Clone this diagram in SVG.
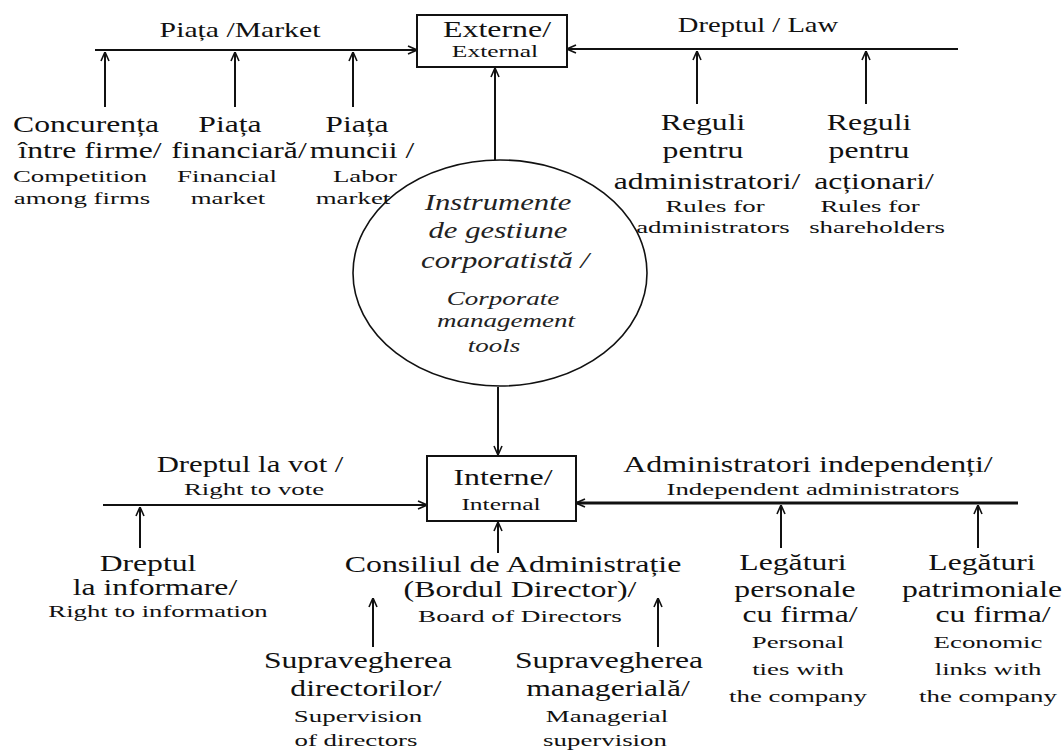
<svg xmlns="http://www.w3.org/2000/svg" width="1064" height="751" viewBox="0 0 1064 751">
<style>
text{font-family:"Liberation Serif","Times New Roman",serif;fill:#111;text-anchor:middle}
.ro{font-size:24px}
.en{font-size:17px}
.hd{font-size:22px}
.it{font-size:24px;font-style:italic;fill:#222}
.iten{font-size:18px;font-style:italic;fill:#222}
.c line{stroke:#111;stroke-width:2;fill:none}
.box{fill:#fff;stroke:#111;stroke-width:2}
</style>
<defs>
<marker id="arr" viewBox="0 0 10 10" refX="10" refY="5" markerWidth="10" markerHeight="10" markerUnits="userSpaceOnUse" orient="auto">
<path d="M1,1 L10,5 L1,9" fill="none" stroke="#111" stroke-width="1.6"/>
</marker>
</defs>
<rect width="1064" height="751" fill="#fff"/>

<g id="connectors" class="c">
<line x1="95" y1="50" x2="417" y2="50" marker-end="url(#arr)"/>
<line x1="958" y1="49" x2="567" y2="49" marker-end="url(#arr)"/>
<line x1="105" y1="107" x2="105" y2="52" marker-end="url(#arr)"/>
<line x1="235" y1="107" x2="235" y2="52" marker-end="url(#arr)"/>
<line x1="353" y1="107" x2="353" y2="52" marker-end="url(#arr)"/>
<line x1="697" y1="104" x2="697" y2="51" marker-end="url(#arr)"/>
<line x1="866" y1="104" x2="866" y2="51" marker-end="url(#arr)"/>
<line x1="495" y1="160" x2="495" y2="68" marker-end="url(#arr)"/>
<line x1="498" y1="387" x2="498" y2="455" marker-end="url(#arr)"/>
<line x1="103" y1="505" x2="427" y2="505" marker-end="url(#arr)"/>
<line x1="1018" y1="503" x2="576" y2="503" style="stroke-width:3" marker-end="url(#arr)"/>
<line x1="140" y1="548" x2="140" y2="507" marker-end="url(#arr)"/>
<line x1="781" y1="548" x2="781" y2="505" marker-end="url(#arr)"/>
<line x1="978" y1="548" x2="978" y2="505" marker-end="url(#arr)"/>
<line x1="498" y1="553" x2="498" y2="522" marker-end="url(#arr)"/>
<line x1="373" y1="647" x2="373" y2="598" marker-end="url(#arr)"/>
<line x1="658" y1="647" x2="658" y2="598" marker-end="url(#arr)"/>
</g>

<g id="externe">
<rect class="box" x="417" y="15" width="150" height="52"/>
<text class="ro" transform="translate(497,37) scale(1.33,1)">Externe/</text>
<text class="en" transform="translate(495,57) scale(1.5,1)">External</text>
</g>

<g id="piata-label">
<text class="hd" font-size="21" transform="translate(240,37) scale(1.35,1)">Piața /Market</text>
</g>
<g id="drept-label">
<text class="hd" transform="translate(758,32) scale(1.3,1)">Dreptul / Law</text>
</g>

<g id="concurenta">
<text class="ro" transform="translate(86,132) scale(1.32,1)">Concurența</text>
<text class="ro" transform="translate(90,158) scale(1.32,1)">între firme/</text>
<text class="en" transform="translate(80,182) scale(1.58,1)">Competition</text>
<text class="en" transform="translate(82,204) scale(1.58,1)">among firms</text>
</g>
<g id="piata-financiara">
<text class="ro" transform="translate(230,132) scale(1.32,1)">Piața</text>
<text class="ro" transform="translate(239,158) scale(1.32,1)">financiară/</text>
<text class="en" transform="translate(227,182) scale(1.58,1)">Financial</text>
<text class="en" transform="translate(228,204) scale(1.58,1)">market</text>
</g>
<g id="piata-muncii">
<text class="ro" transform="translate(357,132) scale(1.32,1)">Piața</text>
<text class="ro" transform="translate(362,158) scale(1.32,1)">muncii /</text>
<text class="en" transform="translate(365,182) scale(1.58,1)">Labor</text>
<text class="en" transform="translate(353,204) scale(1.58,1)">market</text>
</g>
<g id="reguli-admin">
<text class="ro" transform="translate(703,130) scale(1.32,1)">Reguli</text>
<text class="ro" transform="translate(703,158) scale(1.32,1)">pentru</text>
<text class="ro" transform="translate(707,189) scale(1.32,1)">administratori/</text>
<text class="en" transform="translate(715,212) scale(1.58,1)">Rules for</text>
<text class="en" transform="translate(713,233) scale(1.58,1)">administrators</text>
</g>
<g id="reguli-actionari">
<text class="ro" transform="translate(869,130) scale(1.32,1)">Reguli</text>
<text class="ro" transform="translate(869,158) scale(1.32,1)">pentru</text>
<text class="ro" transform="translate(874,189) scale(1.32,1)">acționari/</text>
<text class="en" transform="translate(870,212) scale(1.58,1)">Rules for</text>
<text class="en" transform="translate(877,233) scale(1.58,1)">shareholders</text>
</g>

<g id="instrumente">
<ellipse cx="500" cy="273" rx="147" ry="113" fill="none" stroke="#111" stroke-width="1.6"/>
<text class="it" transform="translate(498,210) scale(1.28,1)">Instrumente</text>
<text class="it" transform="translate(498,238) scale(1.28,1)">de gestiune</text>
<text class="it" transform="translate(505,268) scale(1.28,1)">corporatistă /</text>
<text class="iten" transform="translate(503,305) scale(1.5,1)">Corporate</text>
<text class="iten" transform="translate(506,327) scale(1.5,1)">management</text>
<text class="iten" transform="translate(494,352) scale(1.5,1)">tools</text>
</g>

<g id="interne">
<rect class="box" x="427" y="456" width="149" height="65"/>
<text class="ro" transform="translate(503,485) scale(1.33,1)">Interne/</text>
<text class="en" transform="translate(501,510) scale(1.5,1)">Internal</text>
</g>

<g id="vot-label">
<text class="ro" transform="translate(250,472) scale(1.28,1)">Dreptul la vot /</text>
<text class="en" transform="translate(254,495) scale(1.58,1)">Right to vote</text>
</g>
<g id="admin-indep-label">
<text class="ro" transform="translate(808,472) scale(1.33,1)">Administratori independenți/</text>
<text class="en" transform="translate(813,495) scale(1.58,1)">Independent administrators</text>
</g>

<g id="drept-informare">
<text class="ro" transform="translate(148,571) scale(1.32,1)">Dreptul</text>
<text class="ro" transform="translate(155,595) scale(1.32,1)">la informare/</text>
<text class="en" transform="translate(158,617) scale(1.57,1)">Right to information</text>
</g>
<g id="consiliul">
<text class="ro" transform="translate(513,572) scale(1.33,1)">Consiliul de Administrație</text>
<text class="ro" transform="translate(520,597) scale(1.33,1)">(Bordul Director)/</text>
<text class="en" transform="translate(520,622) scale(1.6,1)">Board of Directors</text>
</g>
<g id="supraveghere-directori">
<text class="ro" transform="translate(358,668) scale(1.32,1)">Supravegherea</text>
<text class="ro" transform="translate(366,696) scale(1.32,1)">directorilor/</text>
<text class="en" transform="translate(358,722) scale(1.58,1)">Supervision</text>
<text class="en" transform="translate(356,746) scale(1.58,1)">of directors</text>
</g>
<g id="supraveghere-manageriala">
<text class="ro" transform="translate(609,668) scale(1.32,1)">Supravegherea</text>
<text class="ro" transform="translate(608,696) scale(1.32,1)">managerială/</text>
<text class="en" transform="translate(607,722) scale(1.58,1)">Managerial</text>
<text class="en" transform="translate(605,746) scale(1.58,1)">supervision</text>
</g>
<g id="legaturi-personale">
<text class="ro" transform="translate(793,570) scale(1.32,1)">Legături</text>
<text class="ro" transform="translate(795,597) scale(1.32,1)">personale</text>
<text class="ro" transform="translate(800,622) scale(1.32,1)">cu firma/</text>
<text class="en" transform="translate(798,648) scale(1.58,1)">Personal</text>
<text class="en" transform="translate(798,675) scale(1.58,1)">ties with</text>
<text class="en" transform="translate(798,702) scale(1.58,1)">the company</text>
</g>
<g id="legaturi-patrimoniale">
<text class="ro" transform="translate(982,570) scale(1.32,1)">Legături</text>
<text class="ro" transform="translate(982,597) scale(1.32,1)">patrimoniale</text>
<text class="ro" transform="translate(993,622) scale(1.32,1)">cu firma/</text>
<text class="en" transform="translate(988,648) scale(1.58,1)">Economic</text>
<text class="en" transform="translate(988,675) scale(1.58,1)">links with</text>
<text class="en" transform="translate(988,702) scale(1.58,1)">the company</text>
</g>
</svg>
